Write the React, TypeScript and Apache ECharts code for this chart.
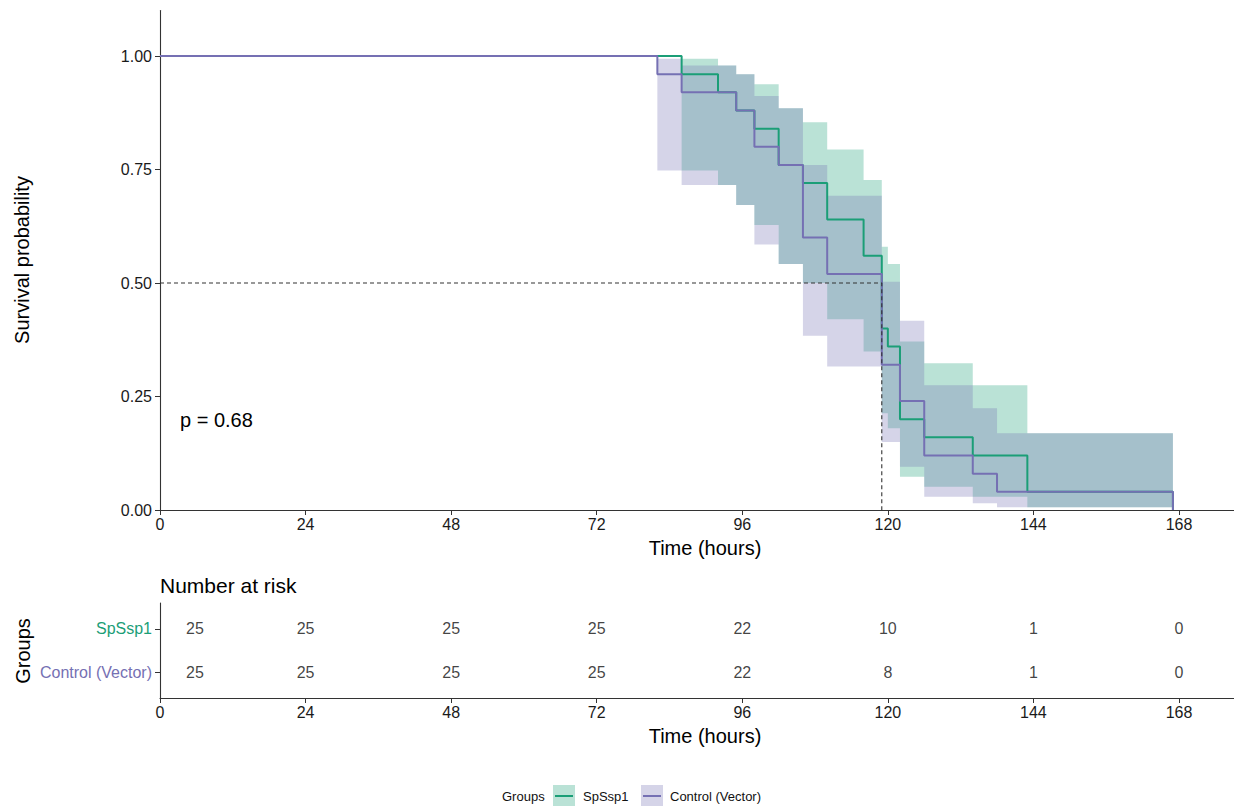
import React, { useEffect, useRef } from "react";
import * as echarts from "echarts";

const FONT = '"Liberation Sans", Arial, Helvetica, sans-serif';

// ---- groups ----
const groupNames = ["SpSsp1", "Control (Vector)"];
const groupColors = ["#1B9E77", "#7570B3"];

// ---- Kaplan-Meier curve, SpSsp1 (time in hours, survival, 95% CI) ----
const spTimes = [0, 86, 92, 95, 98, 102, 106, 110, 116, 119, 120, 122, 126, 134, 143, 167];
const spSurv = [1, 0.96, 0.92, 0.88, 0.84, 0.76, 0.72, 0.64, 0.56, 0.4, 0.36, 0.2, 0.16, 0.12, 0.04, 0];
const spLower = [1, 0.748, 0.716, 0.672, 0.628, 0.542, 0.5, 0.42, 0.349, 0.213, 0.18, 0.073, 0.051, 0.029, 0.006, 0];
const spUpper = [1, 0.994, 0.979, 0.96, 0.938, 0.885, 0.854, 0.794, 0.727, 0.58, 0.542, 0.371, 0.323, 0.275, 0.169, 0];

// ---- Kaplan-Meier curve, Control (Vector) ----
const ctTimes = [0, 82, 86, 95, 98, 102, 106, 110, 119, 122, 126, 134, 138, 167];
const ctSurv = [1, 0.96, 0.92, 0.88, 0.8, 0.76, 0.6, 0.52, 0.32, 0.24, 0.12, 0.08, 0.04, 0];
const ctLower = [1, 0.748, 0.716, 0.672, 0.585, 0.542, 0.384, 0.316, 0.15, 0.095, 0.029, 0.015, 0.006, 0];
const ctUpper = [1, 0.994, 0.979, 0.96, 0.912, 0.885, 0.76, 0.692, 0.503, 0.417, 0.275, 0.224, 0.169, 0];

// ---- axes ----
const timeTicks = [0, 24, 48, 72, 96, 120, 144, 168];
const survTicks = [0, 0.25, 0.5, 0.75, 1];

// ---- number at risk ----
const riskTimes = [0, 24, 48, 72, 96, 120, 144, 168];
const spRisk = [25, 25, 25, 25, 22, 10, 1, 0];
const ctRisk = [25, 25, 25, 25, 22, 8, 1, 0];

// ---- annotations ----
const medianTime = 119;
const medianSurv = 0.5;
const pLabel = "p = 0.68";

const X_MAX = 177.07;
const Y_MAX = 1.1;

function bandRenderer(times: number[], lower: number[], upper: number[], color: string) {
  return (_params: any, api: any) => {
    const n = times.length;
    let start = 0;
    while (start < n - 1 && lower[start] === upper[start]) start++;
    const pts: number[][] = [];
    for (let i = start; i < n - 1; i++) {
      pts.push(api.coord([times[i], upper[i]]));
      pts.push(api.coord([times[i + 1], upper[i]]));
    }
    for (let i = n - 2; i >= start; i--) {
      pts.push(api.coord([times[i + 1], lower[i]]));
      pts.push(api.coord([times[i], lower[i]]));
    }
    return {
      type: "polygon",
      shape: { points: pts },
      style: { fill: color, opacity: 0.3, stroke: "none" },
    };
  };
}

const axisColor = "#333333";
const tickText = "#1a1a1a";

export default function App() {
  const ref = useRef<HTMLDivElement>(null);

  useEffect(() => {
    if (!ref.current) return;
    const chart = echarts.init(ref.current, undefined, { renderer: "svg" });

    const xAxisBase = (gridIndex: number) => ({
      gridIndex,
      type: "value",
      min: 0,
      max: X_MAX,
      axisLine: { show: true, onZero: false, lineStyle: { color: axisColor, width: 1.1 } },
      axisTick: { show: true, length: 5, customValues: timeTicks, lineStyle: { color: axisColor } },
      axisLabel: { customValues: timeTicks, fontSize: 16, color: tickText, margin: 6, fontFamily: FONT },
      splitLine: { show: false },
    });

    const legendItems: any[] = [];
    legendItems.push({
      type: "text",
      x: 502,
      y: 796,
      style: { text: "Groups", fontSize: 13, fontFamily: FONT, fill: "#111", verticalAlign: "middle", align: "left" },
    });
    const keyX = [553, 641];
    const textX = [583, 670];
    groupNames.forEach((name, i) => {
      legendItems.push({
        type: "rect",
        shape: { x: keyX[i], y: 785, width: 22, height: 22 },
        style: { fill: groupColors[i], opacity: 0.3 },
      });
      legendItems.push({
        type: "line",
        shape: { x1: keyX[i] + 2, y1: 796, x2: keyX[i] + 20, y2: 796 },
        style: { stroke: groupColors[i], lineWidth: 2 },
      });
      legendItems.push({
        type: "text",
        x: textX[i],
        y: 796,
        style: { text: name, fontSize: 13, fontFamily: FONT, fill: "#111", verticalAlign: "middle", align: "left" },
      });
    });

    const option: any = {
      animation: false,
      backgroundColor: "#ffffff",
      grid: [
        { left: 160, right: 0, top: 10.6, height: 499.4, containLabel: false },
        { left: 160, right: 0, top: 603, height: 95, containLabel: false },
      ],
      xAxis: [xAxisBase(0), xAxisBase(1)],
      yAxis: [
        {
          gridIndex: 0,
          type: "value",
          min: 0,
          max: Y_MAX,
          axisLine: { show: true, lineStyle: { color: axisColor, width: 1.1 } },
          axisTick: { show: true, length: 5, customValues: survTicks, lineStyle: { color: axisColor } },
          axisLabel: {
            customValues: survTicks,
            fontSize: 16,
            color: tickText,
            margin: 8,
            fontFamily: FONT,
            formatter: (v: number) => v.toFixed(2),
          },
          splitLine: { show: false },
        },
        {
          gridIndex: 1,
          type: "value",
          min: 0.4,
          max: 2.6,
          axisLine: { show: true, lineStyle: { color: axisColor, width: 1.1 } },
          axisTick: { show: true, length: 5, customValues: [1, 2], lineStyle: { color: axisColor } },
          axisLabel: {
            customValues: [1, 2],
            margin: 8,
            formatter: (v: number) => (v === 2 ? `{g|${groupNames[0]}}` : `{c|${groupNames[1]}}`),
            rich: {
              g: { fontSize: 16, color: groupColors[0], fontFamily: FONT },
              c: { fontSize: 16, color: groupColors[1], fontFamily: FONT },
            },
          },
          splitLine: { show: false },
        },
      ],
      series: [
        {
          type: "custom",
          xAxisIndex: 0,
          yAxisIndex: 0,
          data: [[0, 0]],
          renderItem: bandRenderer(spTimes, spLower, spUpper, groupColors[0]),
          silent: true,
          z: 1,
        },
        {
          type: "custom",
          xAxisIndex: 0,
          yAxisIndex: 0,
          data: [[0, 0]],
          renderItem: bandRenderer(ctTimes, ctLower, ctUpper, groupColors[1]),
          silent: true,
          z: 1,
        },
        {
          type: "line",
          name: groupNames[0],
          xAxisIndex: 0,
          yAxisIndex: 0,
          step: "end",
          showSymbol: false,
          data: spTimes.map((t, i) => [t, spSurv[i]]),
          lineStyle: { color: groupColors[0], width: 2 },
          itemStyle: { color: groupColors[0] },
          z: 3,
        },
        {
          type: "line",
          name: groupNames[1],
          xAxisIndex: 0,
          yAxisIndex: 0,
          step: "end",
          showSymbol: false,
          data: ctTimes.map((t, i) => [t, ctSurv[i]]),
          lineStyle: { color: groupColors[1], width: 2 },
          itemStyle: { color: groupColors[1] },
          z: 4,
        },
        {
          type: "line",
          xAxisIndex: 0,
          yAxisIndex: 0,
          showSymbol: false,
          data: [
            [0, medianSurv],
            [medianTime, medianSurv],
            [medianTime, 0],
          ],
          lineStyle: { color: "#333333", width: 1.1, type: [4, 3] },
          z: 5,
        },
        {
          type: "scatter",
          xAxisIndex: 1,
          yAxisIndex: 1,
          symbolSize: 1,
          itemStyle: { color: "transparent" },
          label: { show: true, position: "inside", fontSize: 16, color: "#111", fontFamily: FONT, formatter: (p: any) => String(p.value[2]) },
          data: riskTimes.map((t, i) => ({ value: [t, 2, spRisk[i]], label: i === 0 ? { offset: [35, 0] } : undefined })),
        },
        {
          type: "scatter",
          xAxisIndex: 1,
          yAxisIndex: 1,
          symbolSize: 1,
          itemStyle: { color: "transparent" },
          label: { show: true, position: "inside", fontSize: 16, color: "#111", fontFamily: FONT, formatter: (p: any) => String(p.value[2]) },
          data: riskTimes.map((t, i) => ({ value: [t, 1, ctRisk[i]], label: i === 0 ? { offset: [35, 0] } : undefined })),
        },
      ],
      graphic: [
        {
          type: "text",
          x: 22,
          y: 260,
          rotation: Math.PI / 2,
          style: { text: "Survival probability", fontSize: 20, fontFamily: FONT, fill: "#000", align: "center", verticalAlign: "middle" },
        },
        {
          type: "text",
          x: 180,
          y: 420,
          style: { text: pLabel, fontSize: 20, fontFamily: FONT, fill: "#000", align: "left", verticalAlign: "middle" },
        },
        {
          type: "text",
          x: 705,
          y: 548,
          style: { text: "Time (hours)", fontSize: 20, fontFamily: FONT, fill: "#000", align: "center", verticalAlign: "middle" },
        },
        {
          type: "text",
          x: 160,
          y: 585,
          style: { text: "Number at risk", fontSize: 21, fontFamily: FONT, fill: "#000", align: "left", verticalAlign: "middle" },
        },
        {
          type: "text",
          x: 23,
          y: 651,
          rotation: Math.PI / 2,
          style: { text: "Groups", fontSize: 20, fontFamily: FONT, fill: "#000", align: "center", verticalAlign: "middle" },
        },
        {
          type: "text",
          x: 705,
          y: 736,
          style: { text: "Time (hours)", fontSize: 20, fontFamily: FONT, fill: "#000", align: "center", verticalAlign: "middle" },
        },
        ...legendItems,
      ],
    };

    chart.setOption(option);
    return () => chart.dispose();
  }, []);

  return (
    <div
      ref={ref}
      style={{ position: "fixed", left: 0, top: 0, width: 1234, height: 806, background: "#fff" }}
    />
  );
}
